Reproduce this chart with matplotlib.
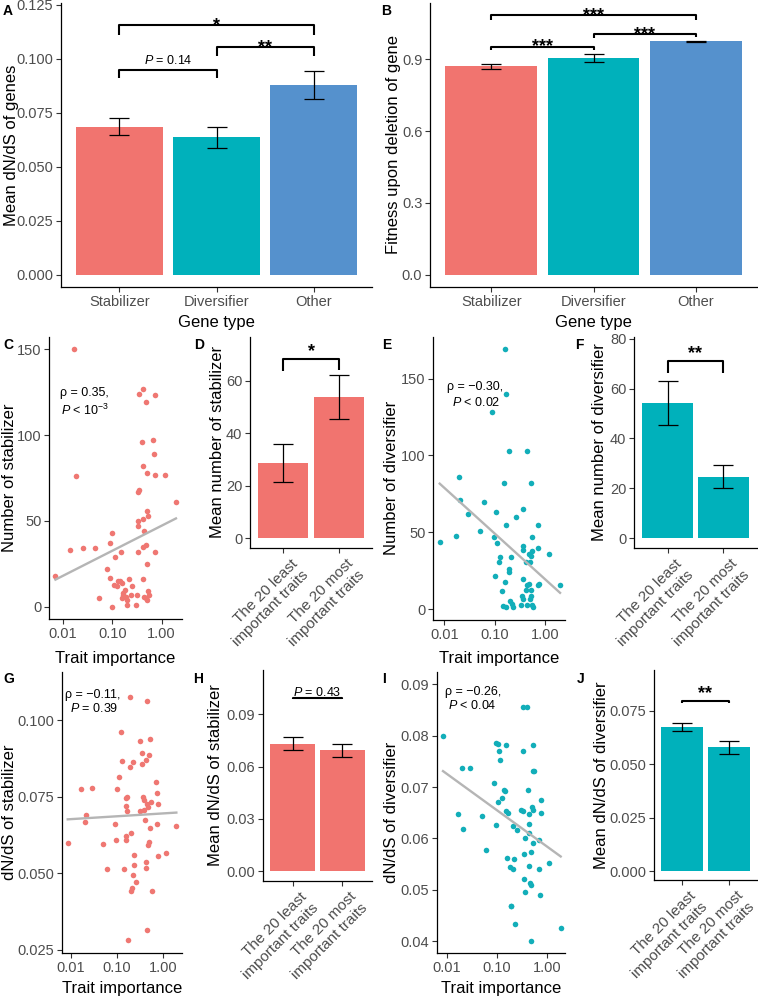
import numpy as np
import matplotlib
matplotlib.use("Agg")
import matplotlib.pyplot as plt
from matplotlib.transforms import ScaledTranslation

plt.rcParams['font.family'] = ['Liberation Sans', 'DejaVu Sans']
plt.rcParams['mathtext.fontset'] = 'custom'
plt.rcParams['mathtext.rm'] = 'Liberation Sans'
plt.rcParams['mathtext.it'] = 'Liberation Sans:italic'

RED = '#F1746F'
TEAL = '#00B1BB'
BLUE = '#5591CD'
RED_PT = '#EF7772'
TEAL_PT = '#12AEB9'
LINE_GRAY = '#B5B5B5'
TICK_GRAY = '#4D4D4D'

# ---- panel A / B : gene types
gene_types = ["Stabilizer", "Diversifier", "Other"]
dnds_mean = [0.0684, 0.0637, 0.0878]
dnds_lo = [0.0645, 0.0585, 0.0813]
dnds_hi = [0.0724, 0.0685, 0.0944]
fitness_mean = [0.871, 0.906, 0.975]
fitness_lo = [0.861, 0.890, 0.973]
fitness_hi = [0.881, 0.922, 0.977]

# ---- bar panels D, F, H, J
trait_groups = ["The 20 least\nimportant traits", "The 20 most\nimportant traits"]
stab_count_mean = [28.7, 53.7]
stab_count_lo = [21.4, 45.4]
stab_count_hi = [36.0, 62.1]
div_count_mean = [54.3, 24.7]
div_count_lo = [45.5, 20.1]
div_count_hi = [63.1, 29.2]
stab_dnds_mean = [0.0733, 0.0693]
stab_dnds_lo = [0.0695, 0.0657]
stab_dnds_hi = [0.0772, 0.0730]
div_dnds_mean = [0.0675, 0.0580]
div_dnds_lo = [0.0655, 0.0550]
div_dnds_hi = [0.0695, 0.0608]

# ---- scatter C: trait importance vs number of stabilizer
imp_c = [0.0165, 0.0182, 0.0070, 0.0141, 0.0248, 0.0436, 0.0526, 0.079, 0.0896, 0.091,
         0.100, 0.098, 0.115, 0.110, 0.132, 0.143, 0.155, 0.148, 0.155, 0.167,
         0.181, 0.162, 0.190, 0.202, 0.196, 0.215, 0.236, 0.314, 0.305, 0.334,
         0.334, 0.329, 0.345, 0.345, 0.334, 0.416, 0.486, 0.719, 0.403, 0.429,
         0.416, 0.443, 0.416, 0.416, 0.472, 0.502, 0.519, 0.502, 0.443, 0.472,
         0.502, 0.533, 0.550, 0.502, 0.665, 0.708, 0.742, 1.15, 1.96, 0.742,
         0.250, 0.125]
num_stab = [150, 76, 18, 33, 34, 34, 5, 22, 17, 37,
            43, 0, 29, 13, 15, 15, 14, 32, 5, 8,
            10, 7, 6, 4, 1, 16, 7, 7, 1, 47,
            50, 67, 68, 124, 32, 127, 119, 123, 96, 82,
            51, 44, 16, 35, 36, 56, 53, 25, 6, 5,
            4, 9, 7, 78, 97, 89, 77, 77, 61, 32,
            12, 12]
fit_c = (47.24, 14.54)

# ---- scatter E: trait importance vs number of diversifier
imp_e = [0.160, 0.171, 0.0885, 0.190, 0.439, 0.156, 0.534, 0.0195, 0.0208, 0.0291,
         0.0604, 0.0081, 0.0168, 0.0503, 0.108, 0.0955, 0.111, 0.171, 0.269, 0.376,
         0.738, 0.552, 1.24, 0.748, 0.366, 0.366, 0.496, 0.552, 0.527, 0.425,
         0.512, 0.122, 0.126, 0.214, 0.190, 0.193, 0.100, 0.163, 0.376, 0.439,
         0.496, 0.527, 0.430, 0.783, 0.738, 2.02, 0.142, 0.349, 0.376, 0.527,
         0.512, 0.151, 0.171, 0.205, 0.221, 0.231, 0.552, 0.439, 0.595, 0.334]
num_div = [169, 140, 128, 103, 103, 82, 82, 86, 71, 62,
           70, 44, 48, 51, 63, 47, 43, 55, 60, 65,
           55, 47, 36, 40, 41, 38.5, 36, 37.7, 35, 31,
           31, 31, 34, 34, 26, 24, 22, 18, 20, 16,
           16.5, 12.5, 12.5, 16.5, 16, 16, 12, 9, 6.5, 9,
           6.5, 2, 1.3, 5.6, 3.5, 1.7, 2.6, 2.8, 1.7, 2.6]
fit_e = (19.8, -29.6)

# ---- scatter G: trait importance vs dN/dS of stabilizer
imp_g = [0.00848, 0.0168, 0.0291, 0.0208, 0.0198, 0.0497, 0.0607, 0.0905, 0.0968, 0.100,
         0.109, 0.122, 0.128, 0.140, 0.154, 0.154, 0.160, 0.165, 0.160, 0.167,
         0.188, 0.195, 0.201, 0.201, 0.215, 0.223, 0.223, 0.230, 0.238, 0.263,
         0.171, 0.321, 0.349, 0.355, 0.367, 0.380, 0.393, 0.406, 0.434, 0.434,
         0.434, 0.449, 0.449, 0.449, 0.480, 0.496, 0.504, 0.522, 0.530, 0.548,
         0.577, 0.693, 0.741, 0.766, 0.741, 0.793, 1.18, 1.95, 0.470, 0.321]
dnds_stab = [0.0600, 0.0775, 0.0779, 0.0689, 0.0667, 0.0597, 0.0515, 0.0661, 0.0609, 0.0776,
             0.0816, 0.0963, 0.0867, 0.0514, 0.0609, 0.0623, 0.0747, 0.0750, 0.0721, 0.0703,
             0.0846, 0.1076, 0.0630, 0.0442, 0.0452, 0.0864, 0.0495, 0.0559, 0.0527, 0.0471,
             0.0280, 0.0932, 0.0893, 0.0857, 0.0748, 0.0739, 0.0707, 0.0674, 0.0870, 0.0538,
             0.0516, 0.1063, 0.0315, 0.0726, 0.0592, 0.0603, 0.0886, 0.0939, 0.0647, 0.0732,
             0.0443, 0.0799, 0.0763, 0.0726, 0.0660, 0.0557, 0.0567, 0.0654, 0.0717, 0.0704]
fit_g = (0.06955, 0.000934)

# ---- scatter I: trait importance vs dN/dS of diversifier
imp_i = [0.00845, 0.0171, 0.0212, 0.0200, 0.0288, 0.0501, 0.0603, 0.0871, 0.0955, 0.0985,
         0.106, 0.105, 0.111, 0.126, 0.118, 0.138, 0.145, 0.156, 0.151, 0.161,
         0.166, 0.182, 0.188, 0.196, 0.206, 0.212, 0.219, 0.233, 0.247, 0.307,
         0.326, 0.336, 0.326, 0.347, 0.357, 0.357, 0.347, 0.404, 0.417, 0.430,
         0.430, 0.430, 0.430, 0.457, 0.471, 0.486, 0.486, 0.494, 0.517, 0.517,
         0.549, 0.533, 0.533, 0.692, 0.703, 0.724, 0.747, 0.747, 1.11, 1.88]
dnds_div = [0.0799, 0.0648, 0.0618, 0.0737, 0.0738, 0.0644, 0.0578, 0.0707, 0.0627, 0.0786,
            0.0783, 0.0671, 0.0771, 0.0679, 0.0753, 0.0695, 0.0692, 0.0781, 0.0653, 0.0562,
            0.0649, 0.0544, 0.0469, 0.0468, 0.0625, 0.0540, 0.0560, 0.0434, 0.0617, 0.0655,
            0.0856, 0.0770, 0.0653, 0.0569, 0.0495, 0.0601, 0.0522, 0.0855, 0.0694, 0.0648,
            0.0629, 0.0610, 0.0546, 0.0513, 0.0510, 0.0573, 0.0401, 0.0661, 0.0782, 0.0731,
            0.0731, 0.0656, 0.0592, 0.0540, 0.0596, 0.0489, 0.0675, 0.0649, 0.0553, 0.0426]
fit_i = (0.05843, -0.00708)

W, H = 758, 997
fig = plt.figure(figsize=(W / 100, H / 100), dpi=100)


def add_ax(l, t, r, b):
    return fig.add_axes([l / W, 1 - b / H, (r - l) / W, (b - t) / H])


def ftxt(x, y, s, **kw):
    fig.text(x / W, 1 - y / H, s, **kw)


def style(ax):
    for side in ['top', 'right']:
        ax.spines[side].set_visible(False)
    for side in ['left', 'bottom']:
        ax.spines[side].set_linewidth(0.9)
        ax.spines[side].set_color('black')
    ax.tick_params(axis='both', length=3.5, width=0.8, color='#333333',
                   labelcolor=TICK_GRAY, labelsize=10.5, pad=2)


def bar_panel(ax, labels, mean, lo, hi, colors, ylim, yticks, ylabels, rotate=False):
    mean, lo, hi = np.array(mean), np.array(lo), np.array(hi)
    x = np.arange(1, len(mean) + 1)
    ax.bar(x, mean, width=0.9, color=colors)
    ax.errorbar(x, mean, yerr=[mean - lo, hi - mean], fmt='none', ecolor='black',
                elinewidth=0.9, capsize=7.2, capthick=0.9)
    ax.set_xlim(0.4, len(mean) + 0.6)
    ax.set_ylim(*ylim)
    ax.set_yticks(yticks)
    ax.set_yticklabels(ylabels)
    ax.set_xticks(x)
    style(ax)
    if rotate:
        ax.set_xticklabels(labels, rotation=45, ha='right', va='top', fontsize=11,
                           rotation_mode='anchor', multialignment='right')
        shift = ScaledTranslation(7 / 100, -1 / 100, fig.dpi_scale_trans)
        for lab in ax.get_xticklabels():
            lab.set_transform(lab.get_transform() + shift)
    else:
        ax.set_xticklabels(labels)


def bracket(ax, x1, x2, y, y1, y2, text, off, size=13, weight='bold'):
    ax.plot([x1, x1, x2, x2], [y1, y, y, y2], color='black', lw=1.5,
            solid_capstyle='butt', clip_on=False)
    ax.annotate(text, ((x1 + x2) / 2, y), xytext=(0, off), textcoords='offset points',
                ha='center', va='baseline', fontsize=size, fontweight=weight,
                annotation_clip=False)


def scatter_panel(ax, x, y, color, fit, xlog, ylim, yticks, ylabels):
    x = np.array(x)
    ax.set_xscale('log')
    ax.scatter(x, y, s=16, color=color, linewidths=0, zorder=2)
    xs = np.logspace(np.log10(x.min()), np.log10(x.max()), 50)
    ax.plot(xs, fit[0] + fit[1] * np.log10(xs), color=LINE_GRAY, lw=1.7, zorder=3)
    ax.set_xlim(10 ** xlog[0], 10 ** xlog[1])
    ax.set_xticks([0.01, 0.1, 1.0])
    ax.set_xticklabels(['0.01', '0.10', '1.00'])
    ax.xaxis.set_minor_locator(matplotlib.ticker.NullLocator())
    ax.set_ylim(*ylim)
    ax.set_yticks(yticks)
    ax.set_yticklabels(ylabels)
    style(ax)


# ---- A
axA = add_ax(61, 3, 372, 287)
bar_panel(axA, gene_types, dnds_mean, dnds_lo, dnds_hi, [RED, TEAL, BLUE],
          (-0.0057, 0.1257), [0, 0.025, 0.05, 0.075, 0.1, 0.125],
          ['0.000', '0.025', '0.050', '0.075', '0.100', '0.125'])
bracket(axA, 1, 2, 0.0949, 0.0910, 0.0910, r'$P$ = 0.14', 4, size=9, weight='normal')
bracket(axA, 2, 3, 0.1052, 0.1011, 0.1011, '**', -3.5)
bracket(axA, 1, 3, 0.1153, 0.1111, 0.1111, '*', -3.5)

# ---- B
axB = add_ax(430, 3, 757, 287)
bar_panel(axB, gene_types, fitness_mean, fitness_lo, fitness_hi, [RED, TEAL, BLUE],
          (-0.0516, 1.135), [0, 0.3, 0.6, 0.9], ['0.0', '0.3', '0.6', '0.9'])
bracket(axB, 1, 2, 0.953, 0.938, 0.938, '***', -3.5)
bracket(axB, 2, 3, 1.005, 0.990, 0.992, '***', -3.5)
bracket(axB, 1, 3, 1.084, 1.066, 1.066, '***', -3.5)

# ---- C
axC = add_ax(49, 337, 182, 619)
scatter_panel(axC, imp_c, num_stab, RED_PT, fit_c, (-2.286, 0.415), (-7, 157),
              [0, 50, 100, 150], ['0', '50', '100', '150'])

# ---- D
axD = add_ax(250, 337, 372, 548)
bar_panel(axD, trait_groups, stab_count_mean, stab_count_lo, stab_count_hi, [RED, RED],
          (-3.8, 76.6), [0, 20, 40, 60], ['0', '20', '40', '60'], rotate=True)
bracket(axD, 1, 2, 68.1, 63.7, 63.9, '*', 2)

# ---- E
axE = add_ax(433, 337, 565, 620)
scatter_panel(axE, imp_e, num_div, TEAL_PT, fit_e, (-2.225, 0.404), (-6.9, 177),
              [0, 50, 100, 150], ['0', '50', '100', '150'])

# ---- F
axF = add_ax(634, 337, 757, 548)
bar_panel(axF, trait_groups, div_count_mean, div_count_lo, div_count_hi, [TEAL, TEAL],
          (-4, 80.7), [0, 20, 40, 60, 80], ['0', '20', '40', '60', '80'], rotate=True)
bracket(axF, 1, 2, 71.1, 66.4, 66.4, '**', 2)

# ---- G
axG = add_ax(62, 672, 182, 953)
scatter_panel(axG, imp_g, dnds_stab, RED_PT, fit_g, (-2.196, 0.413), (0.0239, 0.1158),
              [0.025, 0.05, 0.075, 0.1], ['0.025', '0.050', '0.075', '0.100'])

# ---- H
axH = add_ax(263, 670, 372, 881)
bar_panel(axH, trait_groups, stab_dnds_mean, stab_dnds_lo, stab_dnds_hi, [RED, RED],
          (-0.0056, 0.1155), [0, 0.03, 0.06, 0.09], ['0.00', '0.03', '0.06', '0.09'],
          rotate=True)
bracket(axH, 1, 2, 0.0996, 0.0990, 0.0990, r'$P$ = 0.43', 1.5, size=9, weight='normal')

# ---- I
axI = add_ax(437, 672, 565, 953)
scatter_panel(axI, imp_i, dnds_div, TEAL_PT, fit_i, (-2.193, 0.36), (0.0377, 0.0924),
              [0.04, 0.05, 0.06, 0.07, 0.08, 0.09],
              ['0.04', '0.05', '0.06', '0.07', '0.08', '0.09'])

# ---- J
axJ = add_ax(654, 670, 757, 880)
bar_panel(axJ, trait_groups, div_dnds_mean, div_dnds_lo, div_dnds_hi, [TEAL, TEAL],
          (-0.0042, 0.0942), [0, 0.025, 0.05, 0.075], ['0.000', '0.025', '0.050', '0.075'],
          rotate=True)
bracket(axJ, 1, 2, 0.0798, 0.0786, 0.0786, '**', 2)

# axis titles
ylab = dict(rotation=90, ha='center', va='center', fontsize=12)
ftxt(12, 145, 'Mean dN/dS of genes', **ylab)
ftxt(393, 145, 'Fitness upon deletion of gene', **ylab)
ftxt(10, 478, 'Number of stabilizer', **ylab)
ftxt(218, 442, 'Mean number of stabilizer', **ylab)
ftxt(392, 478, 'Number of diversifier', **ylab)
ftxt(600, 442, 'Mean number of diversifier', **ylab)
ftxt(10, 812, 'dN/dS of stabilizer', **ylab)
ftxt(215, 775, 'Mean dN/dS of stabilizer', **ylab)
ftxt(392, 812, 'dN/dS of diversifier', **ylab)
ftxt(602, 775, 'Mean dN/dS of diversifier', **ylab)

xlab = dict(ha='center', va='center', fontsize=12)
ftxt(216, 323, 'Gene type', **xlab)
ftxt(593, 323, 'Gene type', **xlab)
ftxt(115, 658, 'Trait importance', **xlab)
ftxt(499, 658, 'Trait importance', **xlab)
ftxt(122, 988, 'Trait importance', **xlab)
ftxt(501, 988, 'Trait importance', **xlab)

# panel letters
let = dict(ha='left', va='top', fontsize=10, fontweight='bold')
for s, x, y in [('A', 3, 4), ('B', 381, 4), ('C', 3, 338), ('D', 194, 338),
                ('E', 382, 338), ('F', 575, 338), ('G', 3, 672), ('H', 193, 672),
                ('I', 382, 672), ('J', 577, 672)]:
    ftxt(x, y, s, **let)

# correlation notes
note = dict(ha='left', va='center', fontsize=9)
ftxt(60, 393, '\u03c1 = 0.35,', **note)
ftxt(61, 410, r'$P$ < 10$^{-3}$', **note)
ftxt(447, 387, '\u03c1 = \u22120.30,', **note)
ftxt(452, 402, r'$P$ < 0.02', **note)
ftxt(65, 695, '\u03c1 = \u22120.11,', **note)
ftxt(70, 708, r'$P$ = 0.39', **note)
ftxt(445, 692, '\u03c1 = \u22120.26,', **note)
ftxt(448, 705, r'$P$ < 0.04', **note)

fig.savefig('out.png', dpi=100)
